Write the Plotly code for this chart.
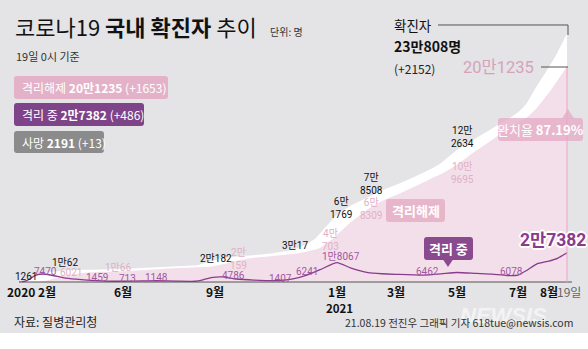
import plotly.graph_objects as go

W, H = 588, 349

# ---------------- data ----------------
conf_dates = ["2020-02-18", "2020-02-21", "2020-02-23", "2020-02-26", "2020-03-01", "2020-03-05",
              "2020-03-10", "2020-03-16", "2020-03-25", "2020-04-03", "2020-04-20", "2020-05-10",
              "2020-06-01", "2020-06-20", "2020-07-10", "2020-08-01", "2020-08-14", "2020-08-20",
              "2020-08-27", "2020-09-02", "2020-09-15", "2020-10-01", "2020-10-20", "2020-11-05",
              "2020-11-20", "2020-12-01", "2020-12-10", "2020-12-20", "2021-01-01", "2021-01-15",
              "2021-02-01", "2021-02-15", "2021-03-01", "2021-03-15", "2021-04-01", "2021-04-15",
              "2021-05-01", "2021-05-15", "2021-06-01", "2021-06-15", "2021-07-01", "2021-07-10",
              "2021-07-20", "2021-08-01", "2021-08-10", "2021-08-19"]
conf_vals = [31, 204, 602, 1261, 3736, 6088,
             7513, 8236, 9137, 10062, 10674, 10874,
             11503, 12373, 13417, 14336, 14873, 16346,
             18706, 20182, 22285, 23812, 25275, 27284,
             30017, 34652, 39432, 49665, 61769, 70728,
             78508, 84946, 90029, 95635, 103088, 110241,
             122634, 130772, 140340, 148273, 157723, 166295,
             182265, 199787, 214085, 230808]

rel_dates = ["2020-02-18", "2020-02-26", "2020-03-05", "2020-03-10", "2020-03-16", "2020-03-25",
             "2020-04-03", "2020-04-20", "2020-05-10", "2020-06-01", "2020-06-20", "2020-07-10",
             "2020-08-01", "2020-08-14", "2020-08-27", "2020-09-10", "2020-09-24", "2020-10-10",
             "2020-10-25", "2020-11-05", "2020-11-20", "2020-12-01", "2020-12-15", "2020-12-28",
             "2021-01-15", "2021-02-01", "2021-02-15", "2021-03-01", "2021-03-15", "2021-04-01",
             "2021-04-15", "2021-05-01", "2021-05-15", "2021-06-01", "2021-06-15", "2021-07-01",
             "2021-07-10", "2021-07-20", "2021-08-01", "2021-08-10", "2021-08-19"]
rel_vals = [12, 22, 88, 247, 1137, 3507,
            6021, 8277, 9484, 10066, 11037, 12204,
            13233, 13817, 14297, 16846, 20159, 22666,
            23834, 24970, 26365, 28352, 31802, 40703,
            56000, 68309, 75700, 81300, 87300, 94700,
            100900, 109695, 119500, 130300, 139600, 149100,
            154000, 163000, 177100, 189200, 201235]

iso_dates = ["2020-02-18", "2020-02-22", "2020-02-26", "2020-03-01", "2020-03-06", "2020-03-13",
             "2020-03-22", "2020-04-03", "2020-04-15", "2020-04-30", "2020-05-15", "2020-06-01",
             "2020-06-20", "2020-07-04", "2020-07-25", "2020-08-12", "2020-08-20", "2020-08-28",
             "2020-09-08", "2020-09-22", "2020-10-10", "2020-11-04", "2020-11-18", "2020-12-01",
             "2020-12-15", "2021-01-01", "2021-01-15", "2021-02-01", "2021-02-15", "2021-03-01",
             "2021-03-28", "2021-04-15", "2021-05-01", "2021-05-20", "2021-06-05", "2021-06-20",
             "2021-07-01", "2021-07-10", "2021-07-20", "2021-08-01", "2021-08-10", "2021-08-19"]
iso_vals = [19, 420, 1226, 3680, 6500, 7470,
            6300, 3867, 2600, 1459, 900, 713,
            1100, 1148, 850, 720, 2000, 4000,
            4786, 2800, 1800, 1407, 2900, 6241,
            11500, 18067, 13000, 8779, 7700, 7200,
            6462, 7600, 8900, 8000, 7300, 6078,
            6500, 11000, 17000, 19600, 22400, 27382]

# labelled points: (date, value, two-line?)
conf_label_pts = [("2020-02-26", 1261, False), ("2020-04-03", 10062, False), ("2020-09-02", 20182, False),
                  ("2020-11-20", 30017, False), ("2021-01-01", 61769, True), ("2021-02-01", 78508, True),
                  ("2021-05-01", 122634, True)]
rel_label_pts = [("2020-04-03", 6021, False), ("2020-06-01", 10066, False), ("2020-09-24", 20159, True),
                 ("2020-12-28", 40703, True), ("2021-02-01", 68309, True), ("2021-05-01", 109695, True)]
iso_label_pts = [("2020-03-13", 7470), ("2020-04-30", 1459), ("2020-06-01", 713), ("2020-07-04", 1148),
                 ("2020-09-08", 4786), ("2020-11-04", 1407), ("2020-12-01", 6241), ("2021-01-01", 18067),
                 ("2021-03-28", 6462), ("2021-06-20", 6078)]

tick_dates = ["2020-02-04", "2020-06-01", "2020-09-01", "2021-01-01", "2021-03-01", "2021-05-01",
              "2021-07-01", "2021-08-01", "2021-08-19"]
tick_text = ["2020 2월", "6월", "9월", "1월", "3월", "5월", "7월", "8월", "19일"]

total_conf, total_conf_delta = 230808, 2152
released_total, released_delta = 201235, 1653
isolated_total, isolated_delta = 27382, 486
deaths_total, deaths_delta = 2191, 13
recovery_rate = 87.19

# ---------------- style offsets (px) for labels ----------------
conf_label_off = [(-1, 4), (1, 9), (0, 2), (0, 4), (4, 8), (3, 14), (5, 14)]
rel_label_off = [(7, 3), (-5, 4), (0, 1), (-3, -2), (3, 0), (5, -8)]
iso_label_off = [(2, 3), (6, 2.5), (4, 3), (0, 3), (11, 1), (1, 2.5), (1, 4), (4, 6), (4, 4), (4, 4.5)]

KR = "Noto Sans CJK KR"
NUM = "Liberation Sans Narrow, Roboto, Noto Sans CJK KR"
BG = "#e4e3e5"
PURPLE = "#8a3b8e"
AREA = "#f3dfe9"


def man(v, br=False):
    if v >= 10000:
        return f"{v // 10000}만" + ("<br>" if br else "") + f"{v % 10000}"
    return f"{v}"


def PX(x):
    return x / W


def PY(y):
    return 1 - y / H


def path_px(pts, close=True):
    s = "M " + " L ".join(f"{PX(x):.5f},{PY(y):.5f}" for x, y in pts)
    return s + (" Z" if close else "")


def rrect(x0, y0, x1, y1, r=3):
    def p(x, y):
        return f"{PX(x):.5f},{PY(y):.5f}"
    return (f"M {p(x0 + r, y0)} L {p(x1 - r, y0)} Q {p(x1, y0)} {p(x1, y0 + r)} "
            f"L {p(x1, y1 - r)} Q {p(x1, y1)} {p(x1 - r, y1)} L {p(x0 + r, y1)} "
            f"Q {p(x0, y1)} {p(x0, y1 - r)} L {p(x0, y0 + r)} Q {p(x0, y0)} {p(x0 + r, y0)} Z")


fig = go.Figure()

fig.add_trace(go.Scatter(x=conf_dates, y=conf_vals, mode="lines", fill="tozeroy",
                         fillcolor="white", line=dict(color="white", width=1.5, shape="spline", smoothing=0.5),
                         hoverinfo="skip"))
fig.add_trace(go.Scatter(x=rel_dates, y=rel_vals, mode="lines", fill="tozeroy", fillcolor=AREA,
                         line=dict(color="rgba(0,0,0,0)", width=0, shape="spline", smoothing=0.5),
                         hoverinfo="skip"))
fig.add_trace(go.Scatter(x=iso_dates, y=iso_vals, mode="lines",
                         line=dict(color=PURPLE, width=1.3, shape="spline", smoothing=0.5),
                         hoverinfo="skip"))

shapes = []
# bottom white strip
shapes.append(dict(type="rect", xref="paper", yref="paper", x0=0, x1=1, y0=0, y1=PY(333),
                   fillcolor="white", line=dict(width=0), layer="below"))
# axis baseline
shapes.append(dict(type="line", xref="x", yref="y", x0="2020-02-21", x1="2021-08-24", y0=0, y1=0,
                   line=dict(color="#555555", width=1)))
# vertical pink line at last day
shapes.append(dict(type="line", xref="x", yref="y", x0=conf_dates[-1], x1=conf_dates[-1],
                   y0=0, y1=released_total, line=dict(color="#f0a3c5", width=1)))
# leader lines
shapes.append(dict(type="path", xref="paper", yref="paper",
                   path=path_px([(438, 25), (568, 25), (568, 35)], close=False),
                   line=dict(color="#555555", width=1)))
shapes.append(dict(type="path", xref="paper", yref="paper",
                   path=path_px([(541, 67), (568, 67)], close=False),
                   line=dict(color="#555555", width=1)))
# legend boxes
shapes.append(dict(type="path", xref="paper", yref="paper", path=rrect(14, 76, 168, 99),
                   fillcolor="#e4b2c8", line=dict(width=0)))
shapes.append(dict(type="path", xref="paper", yref="paper", path=rrect(14, 103, 144, 126),
                   fillcolor="#7e4388", line=dict(width=0)))
shapes.append(dict(type="path", xref="paper", yref="paper", path=rrect(14, 131, 104, 153),
                   fillcolor="#8b8b8b", line=dict(width=0)))
# recovery-rate box with pointer
shapes.append(dict(type="path", xref="paper", yref="paper", path=rrect(498, 118, 583, 141),
                   fillcolor="rgba(228,170,196,0.75)", line=dict(width=0)))
shapes.append(dict(type="path", xref="paper", yref="paper", path=path_px([(562, 118.5), (568, 109), (574, 118.5)]),
                   fillcolor="rgba(228,170,196,0.75)", line=dict(width=0)))
# 격리해제 label box
shapes.append(dict(type="path", xref="paper", yref="paper", path=rrect(386, 199, 445, 222),
                   fillcolor="#e8b6cb", line=dict(width=0)))
# 격리 중 label box + pointer
shapes.append(dict(type="path", xref="paper", yref="paper", path=rrect(424, 237, 473, 260),
                   fillcolor="#8a4a8e", line=dict(width=0)))
shapes.append(dict(type="path", xref="paper", yref="paper", path=path_px([(443, 259.5), (448, 267), (453, 259.5)]),
                   fillcolor="#8a4a8e", line=dict(width=0)))

ann = []


def A(x, y, text, size=12, color="#111", xanchor="left", yanchor="middle", family=KR, **kw):
    ann.append(dict(x=x, y=y, xref=kw.pop("xref", "paper"), yref=kw.pop("yref", "paper"), text=text,
                    showarrow=False, xanchor=xanchor, yanchor=yanchor,
                    font=dict(size=size, color=color, family=family, **kw.pop("font_extra", {})), **kw))


# title block
A(PX(13), PY(26), "코로나19 <b>국내 확진자</b> 추이", size=22, color="#111")
A(PX(268), PY(31), "단위: 명", size=10, color="#333")
A(PX(14), PY(56), "19일 0시 기준", size=11, color="#333")

# legend texts
A(PX(20), PY(87.5), f"격리해제 <b>{man(released_total)}</b> (+{released_delta})", size=12, color="white")
A(PX(20), PY(114.5), f"격리 중 <b>{man(isolated_total)}</b> (+{isolated_delta})", size=12, color="white")
A(PX(20), PY(142), f"사망 <b>{deaths_total}</b> (+{deaths_delta})", size=12, color="white")

# top-right total
A(PX(392), PY(25), "확진자", size=13.5, color="#111")
A(PX(392), PY(46), f"<b>{man(total_conf)}명</b>", size=14, color="#111")
A(PX(392), PY(68), f"(+{total_conf_delta})", size=12, color="#222")
A(PX(536), PY(67), man(released_total), size=16.5, color="#d6a2ba", xanchor="right", family=NUM)
A(PX(540.5), PY(129.5), f"완치율 <b>{recovery_rate}%</b>", size=13, color="white", xanchor="center")

# in-chart label boxes
A(PX(415.5), PY(210.5), "<b>격리해제</b>", size=13, color="white", xanchor="center")
A(PX(448.5), PY(248.5), "<b>격리 중</b>", size=13, color="white", xanchor="center")

# data labels
for (d, v, two), (dx, dy) in zip(conf_label_pts, conf_label_off):
    A(d, v, man(v, two), size=10, color="#111", xanchor="center", family=NUM,
      xref="x", yref="y", xshift=dx, yshift=dy)
for (d, v, two), (dx, dy) in zip(rel_label_pts, rel_label_off):
    A(d, v, man(v, two), size=10, color="#e0b0c6", xanchor="center", family=NUM,
      xref="x", yref="y", xshift=dx, yshift=dy)
for (d, v), (dx, dy) in zip(iso_label_pts, iso_label_off):
    A(d, v, man(v), size=10, color="#a2579f", xanchor="center", family=NUM,
      xref="x", yref="y", xshift=dx, yshift=dy)

# big current isolation label
A(iso_dates[-1], iso_vals[-1], f"<b>{man(iso_vals[-1])}</b>", size=17.5, color=PURPLE, xanchor="right",
  family=NUM, xref="x", yref="y", xshift=21, yshift=13,
  font_extra=dict(shadow="1px 1px 0 #fff, -1px -1px 0 #fff, 1px -1px 0 #fff, -1px 1px 0 #fff, 0 2px 0 #fff, 2px 0 0 #fff, 0 -2px 0 #fff, -2px 0 0 #fff"))

# x tick labels
for i, (d, t) in enumerate(zip(tick_dates, tick_text)):
    if i == 0:
        A(d, PY(291), f"<b>{t}</b>", size=12, color="#111", xanchor="left", xref="x")
    elif t == "19일":
        A(d, PY(291), t, size=12, color="#666", xanchor="center", xref="x", xshift=2)
    else:
        A(d, PY(291), f"<b>{t}</b>", size=12, color="#111", xanchor="center", xref="x")
A("2021-01-01", PY(307.5), "<b>2021</b>", size=11.5, color="#111", xanchor="center", xref="x", xshift=2)

# footer
A(PX(503), PY(315), "<b><i>NEWSIS</i></b>", size=22, color="rgba(255,255,255,0.6)", xanchor="center",
  family="Liberation Sans, Arial")
A(PX(12), PY(321), "자료: 질병관리청", size=12, color="#222")
A(PX(575), PY(322), "21.08.19 전진우 그래픽 기자 618tue@newsis.com", size=10.5, color="#333", xanchor="right")

fig.update_layout(
    width=W, height=H, margin=dict(l=0, r=0, t=0, b=0),
    paper_bgcolor=BG, plot_bgcolor="rgba(0,0,0,0)", showlegend=False,
    xaxis=dict(type="date", range=["2020-01-30", "2021-09-09"], domain=[0, 1], visible=False, fixedrange=True),
    yaxis=dict(range=[-62645, 263670], domain=[0, 1], visible=False, fixedrange=True),
    shapes=shapes, annotations=ann,
)

fig.write_html("out.html", config=dict(displayModeBar=False))
